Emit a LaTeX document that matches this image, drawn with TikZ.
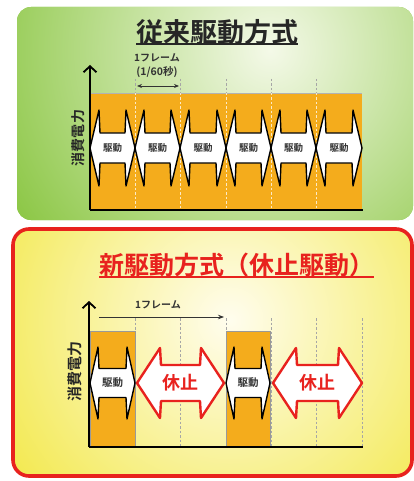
\documentclass[tikz,border=0pt]{standalone}
\usepackage{fontspec}
\newfontfamily\jp{Noto Sans CJK JP}[BoldFont={Noto Sans CJK JP Bold}]
\usetikzlibrary{arrows.meta}
\definecolor{orangebar}{HTML}{F4AC1C}
\definecolor{greenedge}{HTML}{86C43C}
\definecolor{greenlight}{HTML}{F4F9E8}
\definecolor{yellowedge}{HTML}{F0E42A}
\definecolor{yellowlight}{HTML}{FFFDEE}
\definecolor{redline}{HTML}{E8221E}
\definecolor{titledark}{HTML}{262626}
\definecolor{labelgray}{HTML}{333333}
\newcommand{\dblarr}[8]{%
  \path[#8] (#2,#4) -- ({#2+#7},{#4-#5}) -- ({#2+#7+1},{#4-#6}) -- ({#3-#7-1},{#4-#6})
    -- ({#3-#7},{#4-#5}) -- (#3,#4) -- ({#3-#7},{#4+#5}) -- ({#3-#7-1},{#4+#6})
    -- ({#2+#7+1},{#4+#6}) -- ({#2+#7},{#4+#5}) -- cycle;
  \coordinate (#1) at ({(#2+#3)/2},#4);
}
\tikzset{
  drivearrow/.style={fill=white, draw=black, line width=1.4pt, line join=round},
  restarrow/.style={fill=white, draw=redline, line width=2.4pt, line join=round},
  drivetext/.style={font=\jp\bfseries\fontsize{9.5}{9.5}\selectfont, text=labelgray, inner sep=0pt},
  resttext/.style={font=\jp\bfseries\fontsize{18}{18}\selectfont, text=redline, inner sep=0pt},
  smalllabel/.style={font=\jp\bfseries\fontsize{10}{10}\selectfont, text=labelgray, inner sep=0pt},
  ylabel/.style={font=\jp\bfseries\fontsize{14}{14}\selectfont, text=titledark, rotate=90, inner sep=0pt},
  axisline/.style={line width=1.8pt, black},
  gridline/.style={gray!70, line width=0.6pt, dash pattern=on 2.5pt off 2pt},
  gridlight/.style={white!75!orangebar, line width=0.6pt, dash pattern=on 2.5pt off 2pt},
  bar/.style={fill=orangebar, draw=gray!80, line width=0.6pt},
}
\begin{document}
\begin{tikzpicture}[x=1pt,y=-1pt]
\useasboundingbox (0,0) rectangle (414,481);
\fill[white] (0,0) rectangle (414,481);
% ---------- top panel ----------
\path[rounded corners=14pt, fill=greenedge,
  path picture={\shade[inner color=greenlight, outer color=greenedge] (270,50) circle[radius=320pt];}]
  (17,7) rectangle (413,220);
\node[font=\jp\bfseries\fontsize{27}{27}\selectfont, text=titledark, inner sep=0pt, anchor=west] (t1) at (136,32) {従来駆動方式};
\draw[titledark, line width=1.6pt] (t1.south west |- 0,44) -- (t1.south east |- 0,44);
% orange area
\path[fill=orangebar] (90,93) rectangle (362,210);
\draw[gray!60, line width=0.8pt] (90,93) -- (362,93);
\foreach \x in {135,180,226,271,316} {
  \draw[gridline] (\x,79) -- (\x,93);
  \draw[gridlight] (\x,93) -- (\x,210);
}
% frame label
\node[smalllabel] (f1) at (157,58) {1フレーム};
\node[smalllabel, font=\jp\bfseries\fontsize{10.5}{10.5}\selectfont] (f1b) at (157,72) {(1/60秒)};
\coordinate (fa) at (137,86);
\coordinate (fb) at (179,86);
\draw[labelgray, line width=0.8pt, {Stealth[length=5pt,width=4pt]}-{Stealth[length=5pt,width=4pt]}] (fa) -- (fb);
% arrows
\foreach \i/\a/\b in {1/90/135, 2/135/180, 3/180/226, 4/226/271, 5/271/316, 6/316/362} {
  \dblarr{d\i}{\a}{\b}{148}{38}{15}{9}{drivearrow}
  \node[drivetext] (dt\i) at (d\i) {駆動};
}
% axes
\coordinate (o1) at (90,210);
\coordinate (y1) at (90,65);
\coordinate (x1) at (363,210);
\draw[axisline, -{Straight Barb[length=6pt,width=13pt]}] (o1) -- (y1);
\draw[axisline] (o1) -- (x1);
\node[ylabel] (yl1) at (78,138) {消費電力};
% ---------- bottom panel ----------
\path[rounded corners=16pt, fill=yellowedge,
  path picture={\shade[inner color=yellowlight, outer color=yellowedge] (230,320) circle[radius=330pt];}]
  (13,229) rectangle (412,476);
\draw[redline, line width=3.6pt, rounded corners=16pt] (13,229) rectangle (412,476);
\node[font=\jp\bfseries\fontsize{25}{25}\selectfont, text=redline, inner sep=0pt, anchor=west] (t2) at (99,265) {新駆動方式（休止駆動）};
\draw[redline, line width=1.6pt] (t2.south west |- 0,277) -- (t2.south east |- 0,277);
% grid lines
\foreach \x in {135,180,271,316,362} {
  \draw[gridline] (\x,318) -- (\x,447);
}
\draw[gridline] (226,318) -- (226,331);
% bars
\path[bar] (90,331) rectangle (135,447);
\path[bar] (226,331) rectangle (270,447);
% frame label
\node[smalllabel] (f2) at (158,305) {1フレーム};
\coordinate (ga) at (99,317);
\coordinate (gb) at (224,317);
\draw[labelgray, line width=0.8pt, -{Stealth[length=6pt,width=4.5pt]}] (ga) -- (gb);
% arrows
\dblarr{e1}{90}{135}{383}{36}{14.5}{8}{drivearrow}
\node[drivetext, font=\jp\bfseries\fontsize{10.5}{10.5}\selectfont] (et1) at (e1) {駆動};
\dblarr{r1}{137}{224}{383}{35}{18}{23}{restarrow}
\node[resttext] (rt1) at (r1) {休止};
\dblarr{e2}{226}{270}{383}{36}{14.5}{8}{drivearrow}
\node[drivetext, font=\jp\bfseries\fontsize{10.5}{10.5}\selectfont] (et2) at (e2) {駆動};
\dblarr{r2}{273}{362}{383}{35}{18}{23}{restarrow}
\node[resttext] (rt2) at (r2) {休止};
% axes
\coordinate (o2) at (89,447);
\coordinate (y2) at (89,301);
\coordinate (x2) at (363,447);
\draw[axisline, -{Straight Barb[length=6pt,width=13pt]}] (o2) -- (y2);
\draw[axisline] (o2) -- (x2);
\node[ylabel, font=\jp\bfseries\fontsize{15}{15}\selectfont] (yl2) at (75,371) {消費電力};
\end{tikzpicture}
\end{document}
